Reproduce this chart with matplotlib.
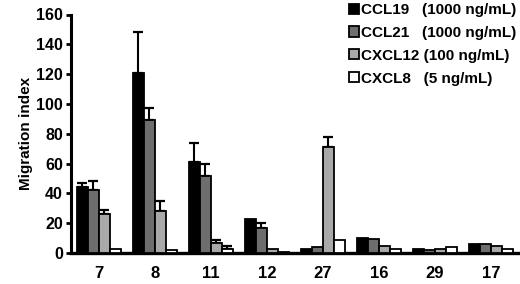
import matplotlib
matplotlib.use("Agg")
import matplotlib.pyplot as plt
import numpy as np

plt.rcParams["font.family"] = ["Liberation Sans", "DejaVu Sans"]
plt.rcParams["font.weight"] = "bold"

groups = ["7", "8", "11", "12", "27", "16", "29", "17"]
series = ["CCL19", "CCL21", "CXCL12", "CXCL8"]
legend_labels = [
    "CCL19   (1000 ng/mL)",
    "CCL21   (1000 ng/mL)",
    "CXCL12 (100 ng/mL)",
    "CXCL8   (5 ng/mL)",
]

ccl19 = [44, 121, 61, 23, 3, 10, 3, 6]
ccl21 = [42, 89, 51.5, 16.5, 4, 9.3, 2, 6]
cxcl12 = [26, 28.5, 7, 3, 71, 5, 3, 4.7]
cxcl8 = [2.5, 2, 3, 0.5, 8.5, 2.7, 3.8, 2.5]

# upper error (SD), 0 where none is drawn
ccl19_err = [3, 27, 13, 0, 0, 0, 0, 0]
ccl21_err = [6, 8, 8, 3.5, 0, 0, 0, 0]
cxcl12_err = [3, 6.5, 2, 0, 7, 0, 0, 0]
cxcl8_err = [0, 0, 2, 0, 0, 0, 0, 0]

values = [ccl19, ccl21, cxcl12, cxcl8]
errors = [ccl19_err, ccl21_err, cxcl12_err, cxcl8_err]
colors = ["#000000", "#6e6e6e", "#a9a9a9", "#ffffff"]

fig = plt.figure(figsize=(5.2, 2.84), dpi=100)
ax = fig.add_axes([70.7 / 520, 31 / 284, 1 - 70.7 / 520, (253 - 14.5) / 284])

x = np.arange(len(groups))
bw = 0.197
handles = []
for j, (vals, errs, col) in enumerate(zip(values, errors, colors)):
    pos = x + (j - 1.5) * bw
    b = ax.bar(pos, vals, width=bw, color=col, edgecolor="black", linewidth=1.3, zorder=3)
    handles.append(b)
    vals = np.asarray(vals, dtype=float)
    errs = np.asarray(errs, dtype=float)
    m = errs > 0
    if m.any():
        ax.errorbar(
            pos[m], vals[m],
            yerr=[np.zeros(m.sum()), errs[m]],
            fmt="none", ecolor="black", elinewidth=1.5,
            capsize=3.8, capthick=1.6, zorder=2,
        )

ax.set_xlim(-0.505, 7.52)
ax.set_ylim(0, 160)
ax.set_yticks(np.arange(0, 161, 20))
ax.set_xticks(x)
ax.set_xticklabels(groups, fontsize=12, fontweight="bold")
ax.tick_params(axis="x", length=0, pad=9)
ax.tick_params(axis="y", direction="out", length=3.5, width=2, labelsize=11.5, pad=2)
for lab in ax.get_yticklabels():
    lab.set_fontweight("bold")
ax.set_ylabel("Migration index", fontsize=11, fontweight="bold", labelpad=2)

ax.spines["top"].set_visible(False)
ax.spines["right"].set_visible(False)
ax.spines["left"].set_linewidth(2.2)
ax.spines["bottom"].set_linewidth(2.4)
ax.spines["left"].set_bounds(0, 160)

fig.legend(
    handles, legend_labels,
    loc="upper left", bbox_to_anchor=(349 / 520, 1 - 3 / 284),
    frameon=False, prop={"weight": "bold", "size": 11},
    handlelength=0.65, handleheight=0.65, handletextpad=0.15,
    labelspacing=0.58, borderpad=0.0, borderaxespad=0.0,
)

fig.savefig("out.png", dpi=100)
